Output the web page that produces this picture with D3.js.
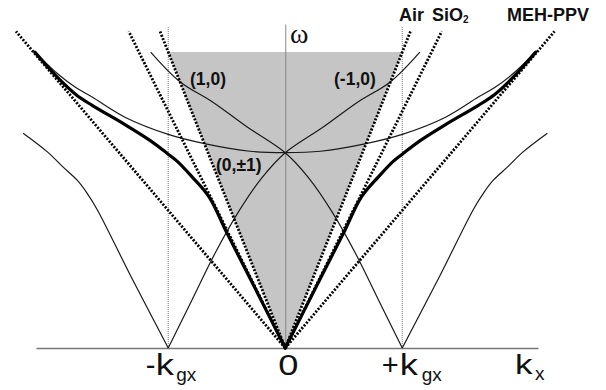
<!DOCTYPE html>
<html><head><meta charset="utf-8">
<script src="https://cdn.jsdelivr.net/npm/d3@7"></script>
<style>body{margin:0;background:#fff} svg{display:block}</style>
</head><body>
<svg id="chart" width="606" height="390"></svg>
<script>
// ---- data: k in units of k_gx, ω normalised so that the Air light line is ω = |k| ----
const kDomain = [-2.13, 2.16];
const wDomain = [0, 1.095];
const tickValues = [-1, 0, 1];
const lightLineNames = ["Air", "SiO", "MEH-PPV"];
const lightLineSubs = ["", "2", ""];
const lightLineSlopes = [1.0, 0.8, 0.465];
const lightLineTopW = 1.07;
const gratingK = [-1, 1];
const airConeK = [-1, 0, 1];
const airConeW = [1, 0, 1];
// guided mode (thick curve), right half; the figure is mirror-symmetric in k
const modeK = [0, 0.3, 0.5, 0.65, 0.8, 0.92, 1.0, 1.15, 1.37, 1.65, 1.79, 1.94, 2.14];
const modeW = [0, 0.235, 0.39, 0.51, 0.58, 0.63, 0.655, 0.70, 0.755, 0.82, 0.857, 0.912, 1.0];
// (1,0) diffracted mode (mirror gives (-1,0))
const order10K = [1.0, 0.8, 0.6, 0.4, 0.2, 0, -0.325, -0.615, -0.9, -1.15];
const order10W = [0, 0.16, 0.32, 0.46, 0.575, 0.66, 0.747, 0.83, 0.90, 1.0];
// outer folded branches beyond ±k_gx
const outerK = [1.0, 1.325, 1.61, 1.70, 1.78, 1.90, 2.03, 2.24];
const outerW = [0, 0.247, 0.47, 0.527, 0.568, 0.612, 0.662, 0.726];
// (0,±1) diffracted mode
const order01K = [0, 0.3, 0.68, 1.0, 1.37, 1.65, 1.79, 1.94, 2.14];
const order01W = [0.66, 0.665, 0.69, 0.722, 0.78, 0.848, 0.88, 0.925, 1.0];
const orderLabels = ["(1,0)", "(-1,0)", "(0,\u00b11)"];

// ---- drawing ----
const svg = d3.select("#chart");
const x = d3.scaleLinear().domain(kDomain).range([36, 538]);
const y = d3.scaleLinear().domain(wDomain).range([348, 24]);
const zip = (ks, ws, s = 1) => ks.map((k, i) => [s * k, ws[i]]);
const line = d3.line().x(d => x(d[0])).y(d => y(d[1])).curve(d3.curveCatmullRom.alpha(0.5));
const straight = d3.line().x(d => x(d[0])).y(d => y(d[1]));

// air light cone (shaded)
svg.append("path").attr("d", straight(zip(airConeK, airConeW)) + "Z")
  .attr("fill", "#c5c5c5").attr("stroke", "none");

// vertical dotted lines at ±k_gx
svg.selectAll("line.grat").data(gratingK).join("line").attr("class", "grat")
  .attr("x1", d => x(d)).attr("x2", d => x(d)).attr("y1", y(1.085)).attr("y2", y(0))
  .attr("stroke", "#666").attr("stroke-width", 0.9).attr("stroke-dasharray", "1 1");

// ω axis
const gy = svg.append("g").attr("transform", `translate(${x(0)},0)`)
  .call(d3.axisLeft(y).tickValues([]).tickSizeOuter(0));
gy.select(".domain").attr("stroke", "#888").attr("stroke-width", 1);
svg.append("text").attr("x", 290).attr("y", 43).text("\u03c9")
  .attr("font-family", "Liberation Serif, serif").attr("font-size", 28).attr("fill", "#111");

// k axis
const gx = svg.append("g").attr("transform", `translate(0,${y(0)})`)
  .call(d3.axisBottom(x).tickValues(tickValues).tickSize(0).tickSizeOuter(0).tickFormat(""));
gx.select(".domain").attr("stroke", "#777").attr("stroke-width", 1.5);
const tickParts = {
  "-1": [["-", -23, 27, 29, 1], ["k", -12.9, 27, 29, 1.25], ["gx", 7.5, 33, 19, 1]],
  "0": [["0", -7.5, 27, 29, 1.25]],
  "1": [["+", -21, 27, 29, 1], ["k", -3, 27, 29, 1.25], ["gx", 19, 33, 19, 1]]
};
gx.selectAll(".tick").each(function (d) {
  const g = d3.select(this);
  tickParts[String(d)].forEach(p => {
    g.append("text").attr("transform", `translate(${p[1]},${p[2]}) scale(${p[4]},1)`)
      .attr("font-family", "Liberation Sans, Arial, sans-serif").attr("font-size", p[3])
      .attr("fill", "#111").attr("text-anchor", "start").text(p[0]);
  });
});
const kx = svg.append("g").attr("font-family", "Liberation Sans, Arial, sans-serif").attr("fill", "#111");
kx.append("text").attr("transform", "translate(515,374) scale(1.25,1)").attr("font-size", 28).text("k");
kx.append("text").attr("transform", "translate(535,380)").attr("font-size", 19).text("x");

// thin folded / diffracted curves
const thin = svg.append("g").attr("fill", "none").attr("stroke", "#1a1a1a").attr("stroke-width", 1.2);
[1, -1].forEach(s => {
  thin.append("path").attr("d", line(zip(order10K, order10W, s)));
  thin.append("path").attr("d", line(zip(outerK, outerW, s)));
  thin.append("path").attr("d", line(zip(order01K, order01W, s)));
});

// guided mode (thick)
[1, -1].forEach(s => {
  svg.append("path").attr("d", line(zip(modeK, modeW, s)))
    .attr("fill", "none").attr("stroke", "#000").attr("stroke-width", 3.2).attr("stroke-linecap", "round");
});

// light lines (dotted)
lightLineSlopes.forEach(m => {
  [1, -1].forEach(s => {
    svg.append("path").attr("d", straight([[0, 0], [s * lightLineTopW / m, lightLineTopW]]))
      .attr("fill", "none").attr("stroke", "#000").attr("stroke-width", 2.8)
      .attr("stroke-dasharray", "2 1.6");
  });
});

// light line labels
const llX = [399, 432, 507];
const ll = svg.append("g").attr("font-family", "Liberation Sans, Arial, sans-serif")
  .attr("font-weight", "bold").attr("fill", "#111");
lightLineNames.forEach((n, i) => {
  const t = ll.append("text").attr("x", llX[i]).attr("y", 20.5).attr("font-size", 18).text(n);
  if (lightLineSubs[i]) t.append("tspan").attr("font-size", 10).attr("dy", 2).text(lightLineSubs[i]);
});

// order labels
const olPos = [[190, 85], [334, 85], [216, 171]];
const ol = svg.append("g").attr("font-family", "Liberation Sans, Arial, sans-serif")
  .attr("font-weight", "bold").attr("fill", "#111").attr("font-size", 17.5);
orderLabels.forEach((t, i) => ol.append("text").attr("x", olPos[i][0]).attr("y", olPos[i][1]).text(t));
</script>
</body></html>
